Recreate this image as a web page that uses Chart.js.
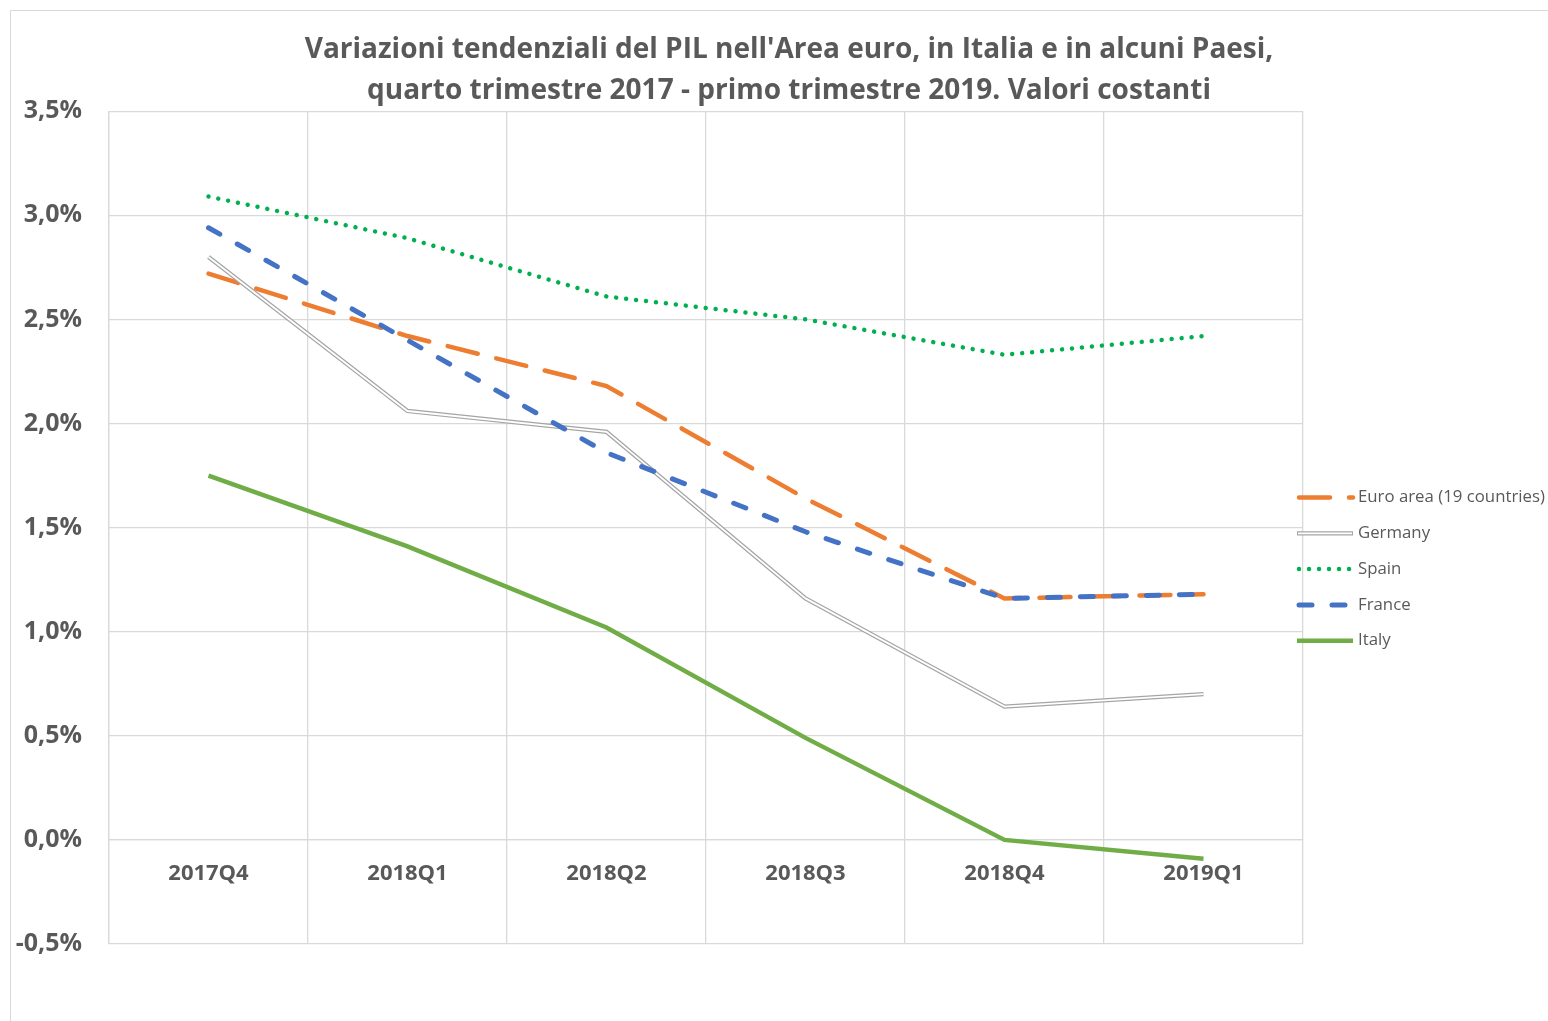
<!DOCTYPE html>
<html>
<head>
<meta charset="utf-8">
<script src="https://cdn.jsdelivr.net/npm/chart.js@4.4.0/dist/chart.umd.min.js"></script>
<style>
html, body { margin: 0; padding: 0; background: #fff; overflow: hidden; }
#box { position: absolute; left: 10px; top: 10px; width: 1556px; height: 1010px; border: 1px solid #d9d9d9; }
</style>
</head>
<body>
<div id="box"><canvas id="chart"></canvas></div>
<script>
const quarters = ['2017Q4', '2018Q1', '2018Q2', '2018Q3', '2018Q4', '2019Q1'];
const euroArea = [2.72, 2.42, 2.18, 1.64, 1.16, 1.18];
const germany = [2.80, 2.06, 1.96, 1.16, 0.64, 0.70];
const spain = [3.09, 2.89, 2.61, 2.50, 2.33, 2.42];
const france = [2.94, 2.40, 1.86, 1.48, 1.16, 1.18];
const italy = [1.75, 1.41, 1.02, 0.49, 0.00, -0.09];
const yTicks = [-0.5, 0, 0.5, 1, 1.5, 2, 2.5, 3, 3.5];

const textColor = '#595959';
const gridColor = '#d9d9d9';
const fontFamily = '"Open Sans", "Noto Sans", sans-serif';

// legend drawn by hand so it can sit where Excel put it
const sideLegend = {
    id: 'sideLegend',
    afterDraw(chart) {
        const ctx = chart.ctx;
        const x0 = chart.chartArea.right - 6;
        const x1 = x0 + 56;
        let y = 486.5;
        ctx.save();
        ctx.font = '16.8px ' + fontFamily;
        ctx.textBaseline = 'middle';
        chart.data.datasets.forEach(ds => {
            if (ds.noLegend) return;
            ctx.setLineDash(ds.borderDash || []);
            ctx.lineCap = ds.borderCapStyle || 'butt';
            ctx.lineWidth = ds.borderWidth;
            ctx.strokeStyle = ds.borderColor;
            ctx.beginPath();
            ctx.moveTo(x0 + (ds.borderCapStyle === 'round' ? 2 : 0), y);
            ctx.lineTo(x1, y);
            ctx.stroke();
            if (ds.label === 'Germany') {
                ctx.lineWidth = 1.8;
                ctx.strokeStyle = '#ffffff';
                ctx.beginPath();
                ctx.moveTo(x0 + 1, y);
                ctx.lineTo(x1 - 1, y);
                ctx.stroke();
            }
            ctx.setLineDash([]);
            ctx.fillStyle = textColor;
            ctx.fillText(ds.label, x1 + 5, y);
            y += 35.8;
        });
        ctx.restore();
    }
};

new Chart(document.getElementById('chart'), {
    type: 'line',
    data: {
        labels: quarters,
        datasets: [
            {
                label: 'Euro area (19 countries)',
                data: euroArea,
                borderColor: '#ed7d31',
                borderWidth: 4.5,
                borderDash: [31, 19],
                borderCapStyle: 'round',
                order: 6
            },
            {
                label: 'Germany',
                data: germany,
                borderColor: '#a5a5a5',
                borderWidth: 4.3,
                order: 5
            },
            {
                label: 'Germany inner',
                data: germany,
                borderColor: '#ffffff',
                borderWidth: 1.8,
                noLegend: true,
                order: 4
            },
            {
                label: 'Spain',
                data: spain,
                borderColor: '#00b050',
                borderWidth: 4.5,
                borderDash: [0.01, 10],
                borderCapStyle: 'round',
                order: 3
            },
            {
                label: 'France',
                data: france,
                borderColor: '#4472c4',
                borderWidth: 5,
                borderDash: [13, 20],
                borderCapStyle: 'round',
                order: 2
            },
            {
                label: 'Italy',
                data: italy,
                borderColor: '#70ad47',
                borderWidth: 4.5,
                order: 1
            }
        ]
    },
    options: {
        responsive: true,
        maintainAspectRatio: false,
        animation: false,
        elements: {
            point: { radius: 0, hoverRadius: 0 },
            line: { tension: 0, fill: false }
        },
        layout: {
            padding: { left: 0, right: 0, bottom: 77 }
        },
        plugins: {
            legend: { display: false },
            tooltip: { enabled: false },
            title: {
                display: true,
                text: ["Variazioni tendenziali del PIL nell'Area euro, in Italia e in alcuni Paesi,",
                       'quarto trimestre 2017 - primo trimestre 2019. Valori costanti'],
                color: textColor,
                font: { family: fontFamily, size: 28, weight: 'bold', lineHeight: 1.45 },
                padding: { top: 19, bottom: 0 }
            }
        },
        scales: {
            x: {
                position: { y: 0 },
                offset: true,
                grid: { color: gridColor, lineWidth: 1.3, offset: true, drawTicks: false },
                border: { color: gridColor, width: 1.3 },
                ticks: {
                    color: textColor,
                    padding: 21,
                    maxRotation: 0,
                    font: { family: fontFamily, size: 22, weight: 'bold' }
                }
            },
            y: {
                min: -0.5,
                max: 3.5,
                afterBuildTicks(scale) {
                    scale.ticks = yTicks.map(v => ({ value: v }));
                },
                afterFit(scale) {
                    scale.width = 98;
                },
                grid: { color: gridColor, lineWidth: 1.3, drawTicks: false },
                border: { color: gridColor, width: 1.3 },
                ticks: {
                    color: textColor,
                    padding: 27,
                    font: { family: fontFamily, size: 25, weight: 'bold' },
                    callback: v => v.toFixed(1).replace('.', ',') + '%'
                }
            },
            // empty right axis only keeps room for the legend
            side: {
                position: 'right',
                display: true,
                afterFit(scale) {
                    scale.width = 264;
                },
                grid: { display: false },
                border: { display: false },
                ticks: { display: false }
            }
        }
    },
    plugins: [sideLegend]
});
</script>
</body>
</html>
